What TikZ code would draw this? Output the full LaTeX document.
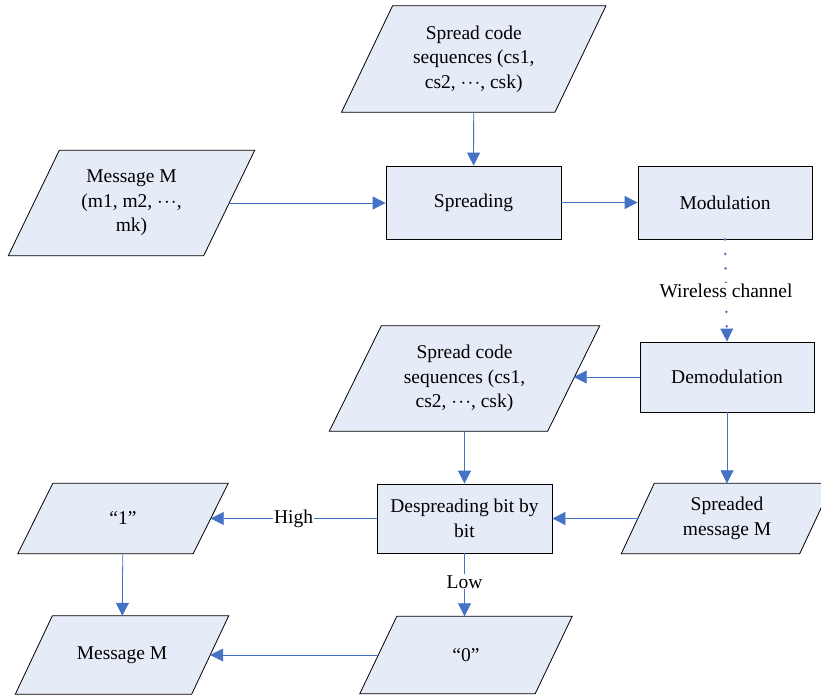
\documentclass[tikz,border=0pt]{standalone}
\usepackage{fontspec}
\setmainfont{Liberation Serif}
\usetikzlibrary{arrows.meta, backgrounds}

\definecolor{boxfill}{HTML}{E6ECF7}
\definecolor{flowblue}{HTML}{4472C4}
\newcommand{\middots}{\ensuremath{\cdot\mkern-3mu\cdot\mkern-3mu\cdot}}

\begin{document}
\begin{tikzpicture}[
			x=1pt, y=-1pt,
			font=\fontsize{19.5}{24.5}\selectfont,
			block/.style={
				draw=black,
				rectangle,
				fill=boxfill,
				line width=0.8pt,
				align=center,
				inner sep=2pt
			},
			io/.style={
				rectangle,
				align=center,
				inner sep=2pt
			},
			ioshape/.style={
				draw=black,
				fill=boxfill,
				line width=0.8pt,
				line join=miter
			},
			flow/.style={
				draw=flowblue,
				line width=0.8pt,
				-{Triangle[length=13pt,width=13pt]}
			},
			tag/.style={
				fill=white,
				text=black,
				inner sep=1pt
			}
			]
			\useasboundingbox (0,0) rectangle (821,695);
			% Sender side
			\node[io, minimum width=213pt, minimum height=106pt] (codesa) at (473.75,59) {Spread code\\sequences (cs1,\\cs2, \middots, csk)};
			\node[io, minimum width=195pt, minimum height=105pt] (msgin) at (131.5,203) {Message M\\(m1, m2, \middots,\\mk)};
			\node[block, minimum width=175pt, minimum height=73pt] (spreading) at (473.5,202.5) {Spreading};
			\node[block, minimum width=174pt, minimum height=73pt] (modul) at (725,202.5) {Modulation};
			% Receiver side
			\node[block, minimum width=174pt, minimum height=70pt] (demod) at (727,377) {Demodulation};
			\node[io, minimum width=218pt, minimum height=105pt] (codesb) at (464.5,378.5) {Spread code\\sequences (cs1,\\cs2, \middots, csk)};
			\node[io, minimum width=178pt, minimum height=70pt] (spreaded) at (727,518.5) {Spreaded\\message M};
			\node[block, minimum width=175pt, minimum height=69pt] (despread) at (464.5,518.5) {Despreading bit by\\bit};
			\node[io, minimum width=175pt, minimum height=70pt] (one) at (123,518.5) {``1''};
			\node[io, minimum width=175pt, minimum height=77pt] (zero) at (466,655) {``0''};
			\node[io, minimum width=176pt, minimum height=78pt] (msgout) at (122,655) {Message M};

			% parallelograms behind the io nodes
			\begin{scope}[on background layer]
				\foreach \n/\s in {codesa/51, msgin/51, codesb/52, spreaded/33, one/35, zero/37, msgout/37}
					\draw[ioshape] ([xshift=-\s/2]\n.south west) -- ([xshift=-\s/2]\n.south east)
						-- ([xshift=\s/2]\n.north east) -- ([xshift=\s/2]\n.north west) -- cycle;
			\end{scope}

			\draw[flow] (codesa) -- (spreading);
			\draw[flow] (msgin.east) -- (spreading.west |- msgin.east);
			\draw[flow] (spreading) -- (modul);
			\draw[flowblue, line width=2.8pt, line cap=round, dash pattern=on 0pt off 14.5pt, -{Triangle[length=13pt,width=13pt,line width=0pt]}] (modul.south) -- node[tag, pos=0.5] {Wireless channel} (demod.north);
			\draw[flow] (demod.west) -- (codesb.east |- demod.west);
			\draw[flow] (demod) -- (spreaded);
			\draw[flow] (codesb) -- (despread);
			\draw[flow] (spreaded) -- (despread);
			\draw[flow] (despread) -- node[tag, pos=0.5] {High} (one);
			\draw[flow] (despread) -- node[tag, pos=0.45] {Low} (zero.north -| despread.south);
			\draw[flow] (one) -- (msgout);
			\draw[flow] (zero) -- (msgout);
		\end{tikzpicture}
\end{document}
